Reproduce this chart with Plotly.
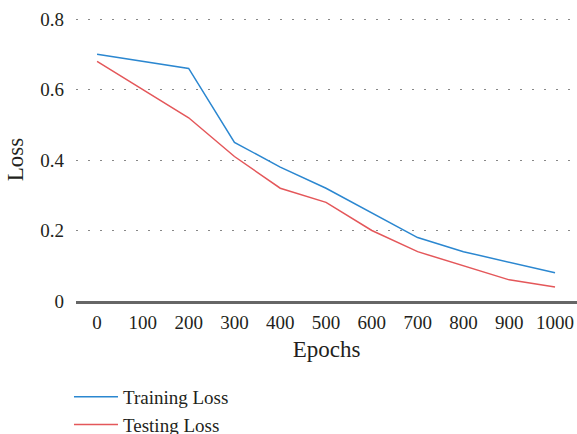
import plotly.graph_objects as go

epochs = [0, 100, 200, 300, 400, 500, 600, 700, 800, 900, 1000]
training_loss = [0.70, 0.68, 0.66, 0.45, 0.38, 0.32, 0.25, 0.18, 0.14, 0.11, 0.08]
testing_loss = [0.68, 0.60, 0.52, 0.41, 0.32, 0.28, 0.20, 0.14, 0.10, 0.06, 0.04]
y_ticks = [0, 0.2, 0.4, 0.6, 0.8]
y_ticktext = ["0", "0.2", "0.4", "0.6", "0.8"]

FONT = "Liberation Serif"

fig = go.Figure()
fig.add_trace(go.Scatter(x=epochs, y=training_loss, mode="lines", name="Training Loss",
                         line=dict(color="#2b87d0", width=1.5)))
fig.add_trace(go.Scatter(x=epochs, y=testing_loss, mode="lines", name="Testing Loss",
                         line=dict(color="#e4575a", width=1.5)))

fig.update_layout(
    width=577, height=434,
    margin=dict(l=76, r=0, t=18, b=133, autoexpand=False),
    paper_bgcolor="white", plot_bgcolor="white",
    font=dict(family=FONT, size=19, color="#231f20"),
    showlegend=True,
    legend=dict(x=-0.014, y=-0.272, xanchor="left", yanchor="top",
                orientation="v", font=dict(size=19), tracegroupgap=0,
                itemwidth=44, bgcolor="rgba(0,0,0,0)"),
    xaxis=dict(range=[-46, 1048], tickvals=epochs, showgrid=False, zeroline=False,
               showline=True, linecolor="#666666", linewidth=2.5,
               ticks="", automargin=False, ticklabelstandoff=2,
               title=dict(text="Epochs", standoff=10),
               tickfont=dict(size=19)),
    yaxis=dict(range=[0, 0.803], tickvals=y_ticks, ticktext=y_ticktext,
               showgrid=True, gridcolor="#888888", gridwidth=1,
               griddash="2px,10px", zeroline=False, showline=False,
               ticks="", automargin=False, ticklabelstandoff=11,
               title=dict(text="Loss", standoff=10),
               tickfont=dict(size=19)),
)

fig.write_html("out.html", config={"displayModeBar": False},
               post_script="document.body.style.margin='0';")
